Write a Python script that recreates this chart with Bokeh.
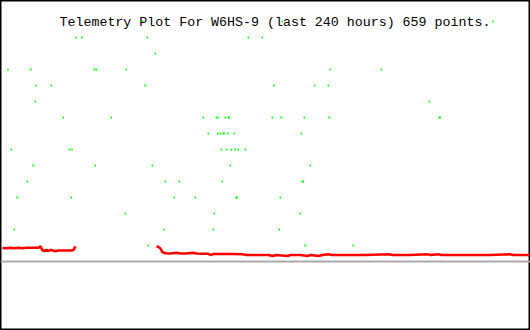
import numpy as np
from bokeh.plotting import figure
from bokeh.models import Span, Label, Range1d, ColumnDataSource
from bokeh.embed import file_html
from bokeh.resources import INLINE

title_text = "Telemetry Plot For W6HS-9 (last 240 hours) 659 points."

# green telemetry samples: hours and level values
green_hours = [
    64.39, 127.61, 223.02,
    34.32, 36.91, 66.48, 112.21, 118.55,
    70.10,
    3.40, 13.68, 42.48, 43.38, 56.97, 149.34, 172.44,
    16.21, 23.00, 65.57, 123.85, 142.28, 148.44,
    15.76, 194.17,
    28.44, 50.17, 91.83, 97.72, 98.63, 101.80, 103.10, 103.50, 123.08, 127.16, 137.57, 148.89, 198.70, 199.10,
    94.10, 98.35, 99.53, 100.85, 101.30, 102.88, 105.87, 136.21,
    4.89, 31.15, 32.38, 99.98, 102.43, 104.51, 106.32, 107.68, 110.85,
    14.85, 42.93, 68.74, 104.06, 140.29,
    12.14, 74.63, 80.97, 100.44, 136.65, 137.05,
    7.61, 32.06, 78.70, 88.21, 106.75, 107.15, 126.70,
    56.51, 96.82, 135.76,
    6.25, 74.17, 96.36, 126.25,
    66.93, 138.02, 159.76,
]
green_vals = (
    [15] * 3 + [14] * 5 + [13] * 1 + [12] * 7 + [11] * 6 + [10] * 2 +
    [9] * 14 + [8] * 8 + [7] * 9 + [6] * 5 + [5] * 6 + [4] * 7 +
    [3] * 3 + [2] * 4 + [1] * 3
)

# red telemetry trace: hours and values (nan = no data)
red_hours = [
    0.91, 2.72, 4.53, 6.34, 8.15, 9.96, 11.77, 14.49, 17.21, 18.11, 19.02,
    19.92, 20.83, 21.74, 22.64, 23.55, 24.91, 26.26, 28.98, 31.70, 33.06,
    33.51, 33.96, 50.0,
    70.64, 71.55, 72.45, 73.36, 74.72, 76.98, 79.70, 81.51, 84.23, 86.94,
    88.75, 91.47, 94.19, 95.09, 96.45, 100.53, 105.06, 109.58, 111.40,
    115.47, 118.64, 121.36, 123.17, 124.98, 129.96, 131.32, 135.85, 139.02,
    140.38, 144.00, 145.81, 148.53, 149.89, 158.49, 165.28, 175.70, 177.51,
    185.66, 193.36, 194.72, 198.34, 199.70, 212.83, 221.89, 230.49, 232.30,
    239.55,
]
red_vals = [
    0.844, 0.825, 0.863, 0.825, 0.863, 0.825, 0.863, 0.863, 0.863, 0.95, 0.70,
    0.656, 0.719, 0.656, 0.731, 0.6875, 0.6375, 0.6875, 0.6875, 0.6875, 0.719,
    0.844, 0.95, float("nan"),
    0.95, 0.906, 0.8125, 0.575, 0.5125, 0.50, 0.544, 0.50, 0.50, 0.544,
    0.50, 0.481, 0.481, 0.406, 0.469, 0.469, 0.469, 0.45, 0.406,
    0.406, 0.406, 0.406, 0.344, 0.406, 0.344, 0.406, 0.406, 0.344,
    0.406, 0.344, 0.406, 0.456, 0.406, 0.406, 0.406, 0.456, 0.406,
    0.406, 0.456, 0.406, 0.456, 0.406, 0.406, 0.406, 0.456, 0.406,
    0.406,
]

W, H = 530, 330
p = figure(width=W, height=H, output_backend="svg", toolbar_location=None,
           x_range=Range1d(0, 240), y_range=Range1d(-4.3125, 16.3125),
           min_border=0, min_border_left=0, min_border_right=0,
           min_border_top=0, min_border_bottom=0)
p.xaxis.visible = False
p.yaxis.visible = False
p.grid.visible = False
p.background_fill_color = "white"
p.border_fill_color = "white"
p.outline_line_color = "black"
p.outline_line_width = 2

p.add_layout(Span(location=0, dimension="width", line_color="#aaaaaa", line_width=2))

p.line(np.array(red_hours), np.array(red_vals), line_color="#ff0000", line_width=2.6)

src = ColumnDataSource(data=dict(x=green_hours, y=green_vals))
p.rect("x", "y", width=1.5, height=2, width_units="screen", height_units="screen",
       source=src, fill_color="#00ff00", line_color=None)

p.add_layout(Label(x=59, y=H - 22, x_units="screen", y_units="screen",
                   text=title_text, text_font="Liberation Mono",
                   text_font_size="13.3px", text_color="black",
                   text_baseline="alphabetic"))

open("out.html", "w").write(file_html(p, INLINE))
